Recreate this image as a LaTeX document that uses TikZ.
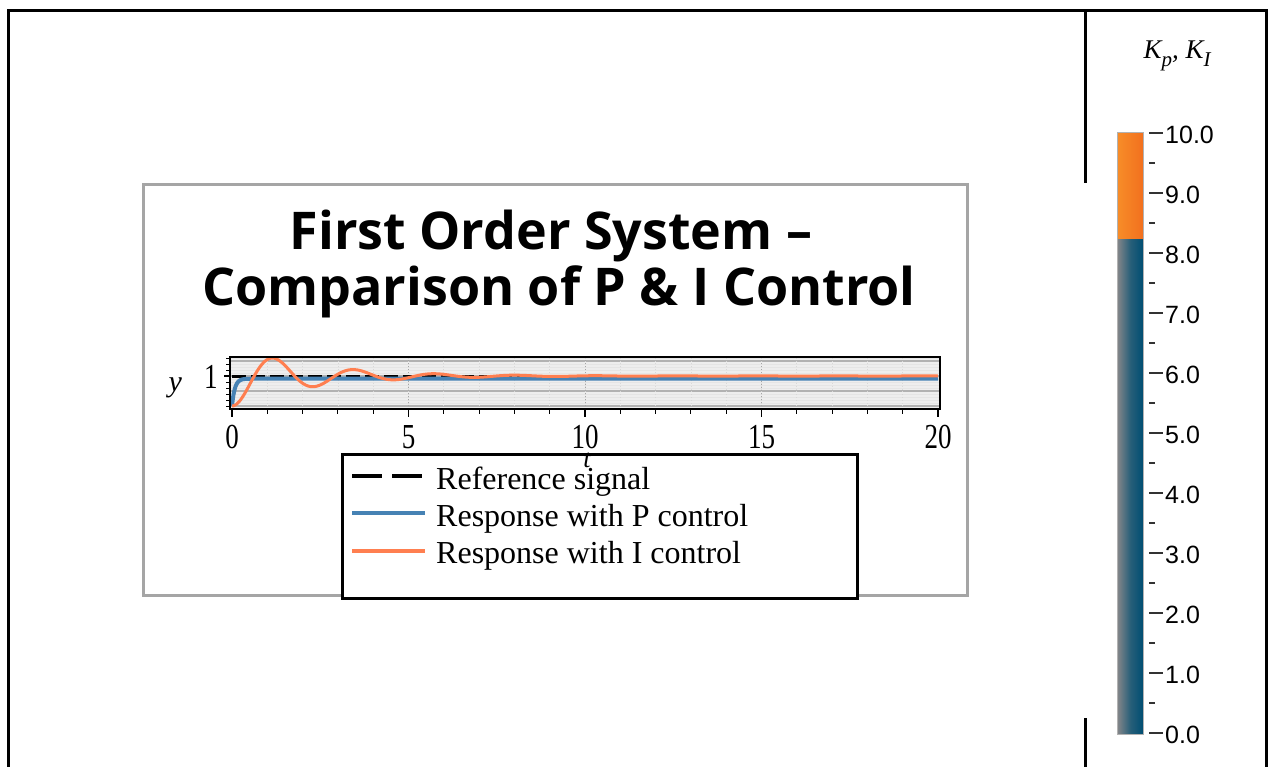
\documentclass[tikz,border=0pt]{standalone}
\usepackage{fontspec}
\usepackage{graphicx}
\setmainfont{Liberation Serif}
\newfontfamily\titlefont{Open Sans}
\newfontfamily\cbfont{Liberation Sans}
\definecolor{pblue}{RGB}{70,130,180}
\definecolor{iorange}{RGB}{255,127,80}
\definecolor{cbblue}{RGB}{0,78,114}
\definecolor{cbgrey}{RGB}{128,132,136}
\definecolor{cborange}{RGB}{242,112,30}
\definecolor{cborangel}{RGB}{247,140,40}
\definecolor{panelgrey}{RGB}{165,165,165}
\definecolor{plotbg}{RGB}{238,238,238}
\newcommand{\stretchlbl}[1]{\scalebox{1}[1.3]{#1}}
\newcommand{\lowsub}[1]{\raisebox{-8pt}{\fontsize{21}{22}\selectfont #1}}

\begin{document}
\begin{tikzpicture}[x=1pt, y=-1pt,
    frameline/.style={line width=3pt},
    panel/.style={draw=panelgrey, line width=3pt},
    legbox/.style={draw=black, fill=white, line width=3pt},
    legtext/.style={anchor=base west, inner sep=0pt, font=\fontsize{32}{36}\selectfont},
    titletext/.style={anchor=base, inner sep=0pt, font=\titlefont\bfseries\fontsize{52}{56}\selectfont},
    ticklbl/.style={inner sep=0pt, font=\fontsize{27}{30}\selectfont},
    cblbl/.style={anchor=west, inner sep=0pt, font=\cbfont\fontsize{25}{27}\selectfont},
    refline/.style={line width=3pt, dash pattern=on 14pt off 5pt},
    presp/.style={pblue, line width=4pt},
    iresp/.style={iorange, line width=3pt},
    cbtick/.style={line width=2pt, black!80}]
\useasboundingbox (0,0) rectangle (1269,767);

% outer frame
\draw[frameline] (8.5,767) -- (8.5,10.5) -- (1266,10.5) -- (1266,767);
\draw[frameline] (1085,10.5) -- (1085,183);
\draw[frameline] (1085,718) -- (1085,767);

% plot panel
\draw[panel] (143.5,185) rectangle (967.5,595.5);
\node[titletext] (title1) at (551,250) {First Order System \textendash};
\node[titletext] (title2) at (559,306) {Comparison of P \& I Control};

% axes
\begin{scope}[shift={(232,406)}, x=35.3pt, y=30pt]
  \fill[plotbg] (-0.06,-0.1) rectangle (20.06,1.63);
  \foreach \v in {0.1,0.2,...,1.6}
    \draw[white!80!gray, line width=0.8pt] (-0.06,\v) -- (20.06,\v);
  \foreach \v in {0,0.5,1,1.5}
    \draw[gray!60, line width=1.3pt] (-0.06,\v) -- (20.06,\v);
  \foreach \t in {1,...,19}
    \draw[gray!30, dotted, line width=0.8pt] (\t,-0.1) -- (\t,1.63);
  \foreach \t in {5,10,15}
    \draw[gray!70, dotted, line width=1pt] (\t,-0.1) -- (\t,1.63);
  \begin{scope}
    \clip (-0.06,-0.1) rectangle (20.06,1.63);
    \draw[refline] (0,1) -- (20,1);
    \draw[presp] plot[domain=0:1, samples=80] (\x,{0.91*(1-exp(-\x/0.08))}) -- (20,0.91);
    \draw[iresp] plot[domain=0:20, samples=500]
      (\x,{1-exp(-0.45*\x)*(cos(2.75*\x r)+0.164*sin(2.75*\x r))});
  \end{scope}
  \draw[line width=2.5pt] (-0.06,-0.1) rectangle (20.06,1.63);
  % ticks
  \foreach \t in {0,...,20}
    \draw[line width=1pt] (\t,-0.1) -- (\t,-0.27);
  \foreach \t in {0,5,...,20}
    \draw[line width=1.2pt] (\t,-0.1) -- (\t,-0.37);
  \foreach \v in {0,0.2,...,1.6}
    \draw[line width=1pt] (-0.06,\v) -- (-0.16,\v);
  \draw[line width=1.2pt] (-0.06,1) -- (-0.24,1);
  % labels
  \foreach \t in {0,5,...,20}
    \node[ticklbl] (xl\t) at (\t,-1.03) {\stretchlbl{\t}};
  \node[ticklbl] (yl1) at (-0.6,0.97) {\stretchlbl{1}};
  \node[ticklbl, font=\itshape\fontsize{30}{32}\selectfont] (ylab) at (-1.61,0.6) {y};
\end{scope}

% legend
\draw[legbox] (342,454.5) rectangle (857,598.5);
\draw[line width=4pt, dash pattern=on 30pt off 10pt] (352,475.5) -- (422,475.5);
\draw[presp] (352,513) -- (425,513);
\draw[iresp, line width=4pt] (352,551) -- (425,551);
\node[legtext] (leg1) at (436,489) {Reference signal};
\node[legtext] (leg2) at (436,526) {Response with P control};
\node[legtext] (leg3) at (436,563) {Response with I control};
\node[ticklbl, font=\itshape\fontsize{26}{28}\selectfont] (xlab) at (587,460) {t};

% colour bar
\node[anchor=base, inner sep=0pt, font=\itshape\fontsize{27}{29}\selectfont] (cbtitle) at (1177,59)
  {K\lowsub{p}, K\lowsub{I}};
\shade[left color=cborangel, right color=cborange] (1118,133) rectangle (1143,240);
\shade[left color=cbgrey, right color=cbblue, middle color=cbblue!70!cbgrey] (1118,240) rectangle (1143,734);
\draw[gray!60, line width=1.5pt] (1117.5,132.5) rectangle (1143.5,734.5);
\foreach \v in {0,...,10}{
  \draw[cbtick] (1149,733-60*\v) -- (1163,733-60*\v);
  \node[cblbl] (cb\v) at (1165,735-60*\v) {\v.0};
}
\foreach \v in {0,...,9}
  \draw[cbtick] (1149,703-60*\v) -- (1155,703-60*\v);
\end{tikzpicture}
\end{document}
